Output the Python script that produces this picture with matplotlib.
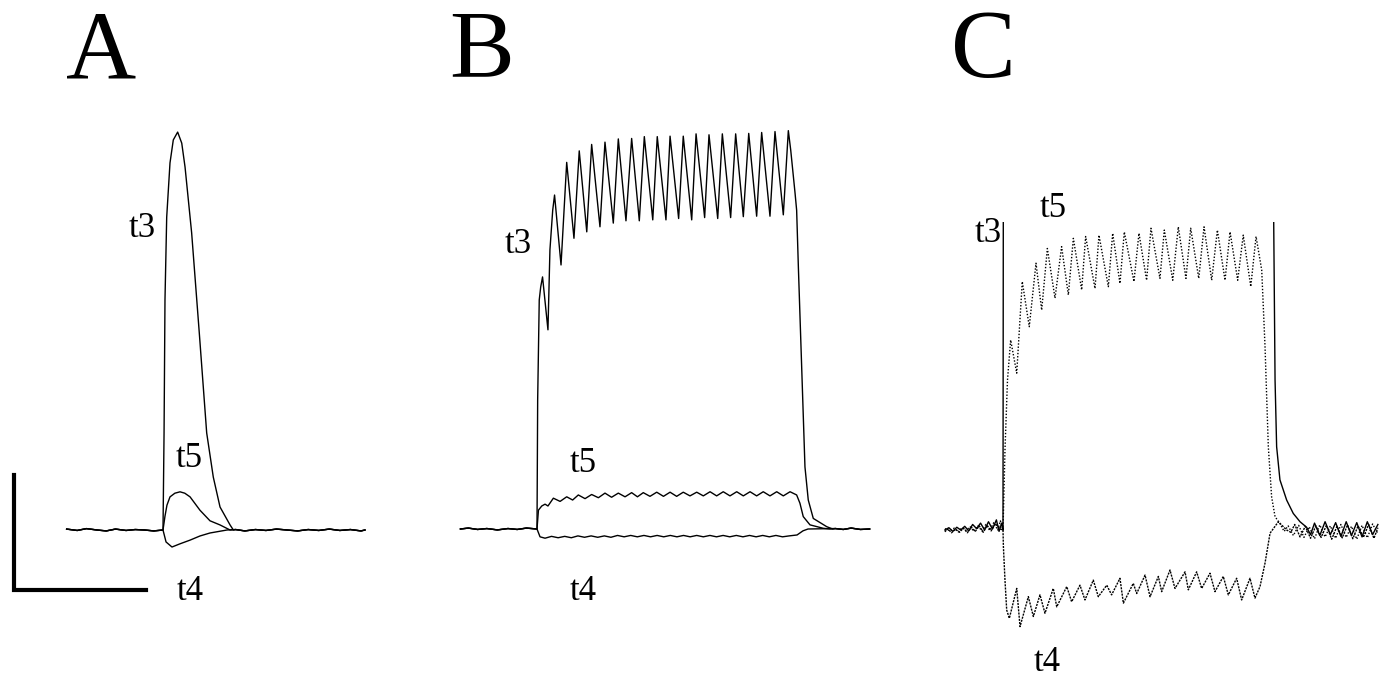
import numpy as np
import matplotlib.pyplot as plt

plt.rcParams['font.family'] = ['Liberation Serif', 'DejaVu Serif']

# traces as (time ms from stimulus onset, membrane potential mV from rest)
# scale bar: 100 ms / 25 mV

# --- panel A: single stimulus ---
a_pre = [(-73, 0.2), (-65, -0.1), (-58, 0.3), (-50, 0.0), (-43, -0.2), (-36, 0.2),
         (-28, -0.1), (-21, 0.1), (-14, 0.0), (-7, -0.2), (0, 0.0)]
a_post = [(55, 0.1), (62, -0.2), (70, 0.1), (78, -0.1), (86, 0.2), (94, 0.0), (102, -0.2),
          (110, 0.1), (118, -0.1), (126, 0.2), (134, -0.1), (142, 0.1), (150, -0.2), (153, 0.0)]
a_t3 = [(0.8, 21.1), (1.5, 50.0), (2.8, 68.0), (5.3, 79.8), (7.8, 84.8), (11.1, 86.5),
        (14.2, 84.1), (16.7, 78.9), (21.7, 64.6), (27.5, 42.8), (33.1, 21.1), (38.1, 11.5),
        (43.2, 5.0), (50.8, 1.1), (53.3, 0.0)]
a_t5 = [(1.5, 3.0), (3.0, 5.4), (5.3, 7.2), (9.0, 8.0), (12.9, 8.3), (16.5, 8.0), (20.5, 7.2),
        (28.0, 4.3), (35.6, 2.0), (43.2, 1.1), (50.8, 0.0)]
a_t4 = [(2.3, -2.6), (6.8, -3.7), (12.9, -3.0), (20.5, -2.2), (28.0, -1.3), (35.6, -0.65),
        (48.5, 0.0)]

# --- panel B: 100 Hz train ---
b_pre = [(-58, 0.0), (-52, 0.2), (-45, -0.1), (-38, 0.1), (-30, -0.2), (-22, 0.1),
         (-15, -0.1), (-8, 0.2), (0, 0.0)]
b_post = [(226, 0.1), (232, -0.1), (238, 0.2), (245, -0.1), (252, 0.0)]
b_t3 = [(0.5, 28.0), (1.7, 49.8), (2.8, 52.6), (4.2, 54.8), (8.3, 43.3), (9.8, 60.7),
        (11.9, 69.3), (13.3, 72.6), (18.2, 57.4), (22.5, 79.7), (28.0, 63.2), (32.0, 82.2),
        (37.7, 64.6), (41.4, 83.6), (47.7, 65.7), (51.5, 84.1), (57.8, 66.5), (61.6, 84.8),
        (67.4, 67.0), (71.7, 84.9), (77.5, 67.0), (81.3, 85.3), (87.7, 67.2), (91.1, 85.3),
        (97.7, 67.2), (100.8, 85.4), (107.3, 67.5), (110.8, 85.4), (117.2, 67.2), (120.5, 85.9),
        (127.0, 67.7), (130.3, 85.7), (136.9, 67.5), (140.4, 85.9), (146.7, 67.7), (150.5, 85.9),
        (156.3, 67.9), (160.4, 86.0), (166.4, 68.0), (170.2, 86.2), (176.5, 68.0), (180.3, 86.4),
        (186.6, 68.3), (190.4, 86.6), (192.2, 82.4), (195.5, 73.0), (196.7, 69.3), (198.0, 57.0),
        (200.5, 35.3), (203.0, 13.5), (205.5, 6.3), (209.3, 2.3), (219.5, 0.5), (224.0, 0.0)]
b_t5 = [(1.1, 4.1), (3.6, 5.0), (6.1, 5.4), (8.3, 5.0), (12.4, 6.7), (17.5, 6.0), (22.5, 7.0),
        (27.0, 6.3), (31.3, 7.4), (36.4, 6.6), (41.4, 7.5), (46.5, 6.8), (51.5, 7.8), (56.5, 6.9),
        (61.6, 7.8), (66.7, 7.0), (71.7, 7.9), (76.1, 7.0), (80.5, 7.9), (85.6, 7.1), (90.7, 8.0),
        (95.8, 7.1), (100.8, 8.0), (105.8, 7.1), (110.8, 8.0), (115.9, 7.2), (121.0, 8.0),
        (126.0, 7.2), (131.1, 8.1), (136.1, 7.2), (141.1, 8.1), (146.2, 7.2), (151.3, 8.1),
        (156.3, 7.2), (161.4, 8.1), (166.4, 7.2), (171.4, 8.1), (176.5, 7.2), (181.6, 8.1),
        (186.6, 7.2), (191.7, 8.1), (196.7, 7.4), (199.2, 5.6), (201.7, 2.7), (206.8, 0.9),
        (216.9, 0.15), (222.0, 0.0)]
b_t4 = [(2.3, -1.7), (6.1, -2.0), (11, -1.6), (16, -1.9), (21, -1.6), (26, -1.9), (31, -1.5),
        (36, -1.8), (41, -1.5), (46, -1.8), (51, -1.5), (56, -1.8), (61, -1.4), (66, -1.7),
        (71, -1.4), (76, -1.7), (81, -1.4), (86, -1.7), (91, -1.4), (96, -1.7), (101, -1.4),
        (106, -1.7), (111, -1.4), (116, -1.7), (121, -1.4), (126, -1.7), (131, -1.4), (136, -1.7),
        (141, -1.4), (146, -1.7), (151, -1.4), (156, -1.7), (161, -1.4), (166, -1.7), (171, -1.4),
        (176, -1.7), (181, -1.4), (186, -1.7), (191, -1.5), (197, -1.3), (201.5, -0.4),
        (205.3, 0.0)]

# --- panel C: 100 Hz train, t3 off scale ---
c_pre_t3 = [(-44, 0.0), (-41, 0.5), (-38, -0.3), (-35, 0.6), (-32, 0.0), (-29, 0.8), (-26, -0.2),
            (-23, 1.2), (-20, 0.3), (-17, 1.5), (-14, 0.0), (-11, 1.8), (-8, 0.2), (-5, 2.2),
            (-3, -0.3), (-1, 1.5), (0, 0.0)]
c_pre_t4 = [(-44, -0.4), (-42, 0.3), (-39, -0.6), (-36, 0.2), (-33, -0.5), (-30, 0.4), (-27, -0.6),
            (-24, 0.6), (-21, -0.3), (-18, 0.9), (-15, -0.5), (-12, 1.0), (-9, -0.2), (-6, 1.4),
            (-2, 0.2), (0, 0.0)]
c_pre_t5 = [(-44, 0.3), (-40, -0.2), (-37, 0.4), (-34, -0.4), (-31, 0.5), (-28, -0.1), (-25, 0.7),
            (-22, -0.3), (-19, 0.9), (-16, -0.2), (-13, 1.2), (-10, -0.1), (-7, 1.6), (-4, 0.0),
            (-2, 2.0), (0, 0.0)]
c_t3 = [(0.3, 90.0), (204.4, 90.0), (206.1, 32.6), (207.3, 18.1), (209.8, 10.9), (214.9, 6.5),
        (219.9, 3.6), (225.0, 1.8), (230.0, 0.6)]
c_post_t3 = [(233, -1.0), (236, 1.5), (240, -1.2), (244, 1.8), (248, -1.0), (252, 1.6), (256, -1.4),
             (260, 1.8), (264, -1.2), (268, 1.6), (272, -1.5), (276, 1.8), (280, -1.0), (284, 1.2)]
c_t5 = [(1.5, 17.4), (3.4, 32.6), (5.8, 41.3), (10.4, 34.1), (14.6, 54.0), (19.9, 44.2),
        (25.0, 58.0), (29.3, 47.8), (33.6, 61.2), (39.4, 50.4), (44.4, 61.6), (49.5, 51.1),
        (53.3, 63.4), (59.6, 52.2), (62.6, 63.8), (69.7, 52.5), (72.7, 64.1), (79.8, 52.9),
        (83.1, 64.5), (88.6, 53.6), (91.9, 64.8), (99.2, 54.0), (103.0, 64.5), (108.8, 54.3),
        (112.1, 65.6), (118.9, 54.7), (122.2, 65.2), (128.6, 54.3), (132.8, 65.9), (138.6, 54.7),
        (142.2, 65.6), (148.3, 54.7), (152.3, 65.9), (158.1, 54.3), (162.4, 65.2), (168.2, 54.3),
        (172.0, 64.8), (177.8, 54.3), (182.0, 64.1), (187.7, 52.9), (191.7, 63.8), (196.0, 56.5),
        (198.5, 39.9), (201.0, 18.1), (203.5, 7.2), (206.1, 2.9), (209.8, 1.4)]
c_post_t5 = [(213, -0.3), (216, 0.9), (220, -1.2), (224, 1.0), (228, -1.6), (232, 0.7), (236, -1.9),
             (240, 1.1), (244, -1.5), (248, 0.9), (252, -1.8), (256, 1.2), (260, -1.6), (264, 0.8),
             (268, -2.0), (272, 1.0), (276, -1.7), (280, 1.3), (284, -0.8)]
c_t4 = [(0.3, -3.6), (1.5, -10.9), (2.8, -17.4), (4.8, -19.2), (10.4, -12.7), (12.9, -21.0),
        (19.2, -14.5), (23.0, -18.8), (28.0, -14.1), (31.8, -18.1), (38.1, -12.7), (40.7, -16.7),
        (48.3, -12.3), (52.0, -15.6), (58.3, -12.0), (62.1, -15.2), (68.4, -10.9), (72.2, -14.5),
        (78.6, -12.0), (82.3, -14.1), (88.6, -10.5), (91.2, -15.9), (98.7, -11.6), (101.3, -13.8),
        (107.6, -9.8), (111.4, -14.5), (117.7, -10.1), (120.2, -13.4), (126.5, -8.7), (130.3, -12.7),
        (137.9, -9.1), (140.4, -13.0), (146.7, -9.1), (150.5, -12.7), (156.8, -9.4), (160.6, -13.4),
        (166.9, -10.1), (170.7, -14.1), (177.0, -10.5), (180.8, -15.2), (187.1, -10.5),
        (190.9, -14.8), (194.7, -12.3), (198.5, -7.2), (202.3, -0.7), (208.6, 1.8), (214.9, 0.0)]
c_post_t4 = [(218, -0.5), (221, 1.2), (225, -1.5), (229, 0.8), (233, -1.8), (237, 0.9), (241, -1.6),
             (245, 1.0), (249, -2.0), (253, 0.8), (257, -1.7), (261, 1.1), (265, -1.9), (269, 0.9),
             (273, -1.6), (277, 1.2), (281, -1.8), (284, 0.5)]

panel_letters = ['A', 'B', 'C']
trace_names = ['t3', 't4', 't5']

# figure layout (pixels) and scale (pixels per ms / per mV)
W, H = 1387, 680
KX, KY = 1.32, 4.6

fig = plt.figure(figsize=(W / 100, H / 100), dpi=100)


def panel(onset, base, left, right, top, bottom):
    ax = fig.add_axes([left / W, 1 - bottom / H, (right - left) / W, (bottom - top) / H])
    ax.set_xlim((left - onset) / KX, (right - onset) / KX)
    ax.set_ylim((base - bottom) / KY, (base - top) / KY)
    ax.axis('off')
    return ax


def trace(ax, *parts, **kw):
    pts = np.array([p for part in parts for p in part])
    ax.plot(pts[:, 0], pts[:, 1], color='black', **kw)


lw = 1.0
lab = dict(fontsize=25, ha='center', va='baseline')

# A
axA = panel(163, 530, 0, 420, 100, 620)
trace(axA, a_pre, a_t3, a_post, lw=lw)
trace(axA, a_pre, a_t5, a_post, lw=lw)
trace(axA, a_pre, a_t4, a_post, lw=lw)
axA.plot([-113, -113, -13], [12, -13, -13], color='black', lw=3, solid_joinstyle='miter')
axA.text(-15.9, (530 - 237) / KY, trace_names[0], **lab)
axA.text(19.7, (530 - 467) / KY, trace_names[2], **lab)
axA.text(20.5, (530 - 600) / KY, trace_names[1], **lab)

# B
axB = panel(537, 529, 440, 900, 100, 620)
trace(axB, b_pre, b_t3, b_post, lw=lw)
trace(axB, b_pre, b_t5, b_post, lw=lw)
trace(axB, b_pre, b_t4, b_post, lw=lw)
axB.text(-14.4, (529 - 253) / KY, trace_names[0], **lab)
axB.text(34.8, (529 - 472) / KY, trace_names[2], **lab)
axB.text(34.8, (529 - 600) / KY, trace_names[1], **lab)

# C
axC = panel(1003, 530, 930, 1387, 222, 680)
trace(axC, c_pre_t3, c_t3, c_post_t3, lw=lw)
trace(axC, c_pre_t5, c_t5, c_post_t5, lw=1.0, ls=(0, (1, 1.3)))
trace(axC, c_pre_t4, c_t4, c_post_t4, lw=1.0, ls=(0, (1.5, 0.8)))
axC.text(-11.4, (530 - 242) / KY, trace_names[0], **lab)
axC.text(37.9, (530 - 217) / KY, trace_names[2], **lab)
axC.text(33.3, (530 - 671) / KY, trace_names[1], **lab)

for letter, xp in zip(panel_letters, [101, 482, 983]):
    fig.text(xp / W, 1 - 77 / H, letter, fontsize=70, ha='center', va='baseline')

fig.savefig('out.png', dpi=100)
